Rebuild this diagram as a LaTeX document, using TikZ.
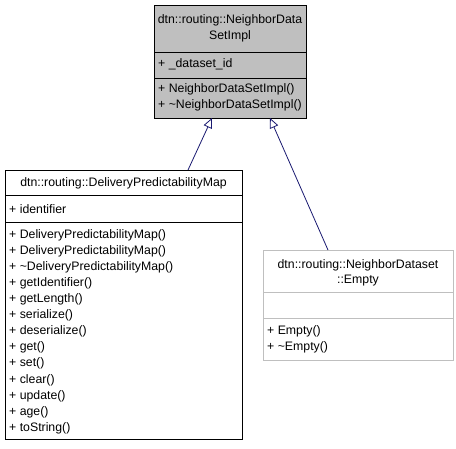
\documentclass[tikz,border=0pt]{standalone}
\usepackage{fontspec}
\setmainfont{Liberation Sans}
\usetikzlibrary{arrows.meta}
\definecolor{basefill}{HTML}{BFBFBF}
\definecolor{greyedge}{HTML}{BFBFBF}
\definecolor{edgeblue}{HTML}{191970}
\tikzset{
  classbox/.style={draw=black, line width=0.8pt, anchor=north west, inner sep=0pt, outer sep=0pt},
  txt/.style={font=\fontsize{12.3}{14}\selectfont, inner sep=0pt, anchor=west},
  ctxt/.style={font=\fontsize{12.3}{14}\selectfont, inner sep=0pt, anchor=center},
  inherit/.style={draw=edgeblue, line width=0.8pt, -{Triangle[open, length=10pt, width=9pt, fill=white]}},
}
\begin{document}
\begin{tikzpicture}[x=1pt, y=-1pt]
\useasboundingbox (0,0) rectangle (456,448);
% Base class
\node[classbox, fill=basefill, minimum width=152pt, minimum height=113pt] (base) at (154,5) {};
\draw[line width=0.8pt] (154,52) -- (306,52) (154,78) -- (306,78);
\node[ctxt] (bt1) at (230,20) {dtn::routing::NeighborData};
\node[ctxt] (bt2) at (230,36) {SetImpl};
\node[txt] (ba1) at (158,64) {+ \_dataset\_id};
\node[txt] (bm1) at (158,89) {+ NeighborDataSetImpl()};
\node[txt] (bm2) at (158,105) {+ \textasciitilde NeighborDataSetImpl()};
% DeliveryPredictabilityMap
\node[classbox, fill=white, minimum width=237pt, minimum height=269pt] (dpm) at (5,170) {};
\draw[line width=0.8pt] (5,195) -- (242,195) (5,222) -- (242,222);
\node[ctxt] (dt) at (123.5,183) {dtn::routing::DeliveryPredictabilityMap};
\node[txt] (da1) at (9,209) {+ identifier};
\foreach \t [count=\i from 0] in {%
  {+ DeliveryPredictabilityMap()},
  {+ DeliveryPredictabilityMap()},
  {+ \textasciitilde DeliveryPredictabilityMap()},
  {+ getIdentifier()},
  {+ getLength()},
  {+ serialize()},
  {+ deserialize()},
  {+ get()},
  {+ set()},
  {+ clear()},
  {+ update()},
  {+ age()},
  {+ toString()}}
  \node[txt] (dm\i) at (9,{235+\i*16.1}) {\t};
% Empty
\node[classbox, draw=greyedge, fill=white, minimum width=190pt, minimum height=110pt] (emp) at (263,250) {};
\draw[greyedge, line width=0.8pt] (263,292) -- (453,292) (263,318) -- (453,318);
\node[ctxt] (et1) at (358,265) {dtn::routing::NeighborDataset};
\node[ctxt] (et2) at (358,281) {::Empty};
\node[txt] (em1) at (267,331) {+ Empty()};
\node[txt] (em2) at (267,347) {+ \textasciitilde Empty()};
% Inheritance edges
\coordinate (dtop) at (188,170);
\coordinate (etop) at (328,250);
\coordinate (bl) at (212,118);
\coordinate (br) at (270,118);
\draw[inherit] (dtop) -- (bl);
\draw[inherit] (etop) -- (br);
\end{tikzpicture}
\end{document}
